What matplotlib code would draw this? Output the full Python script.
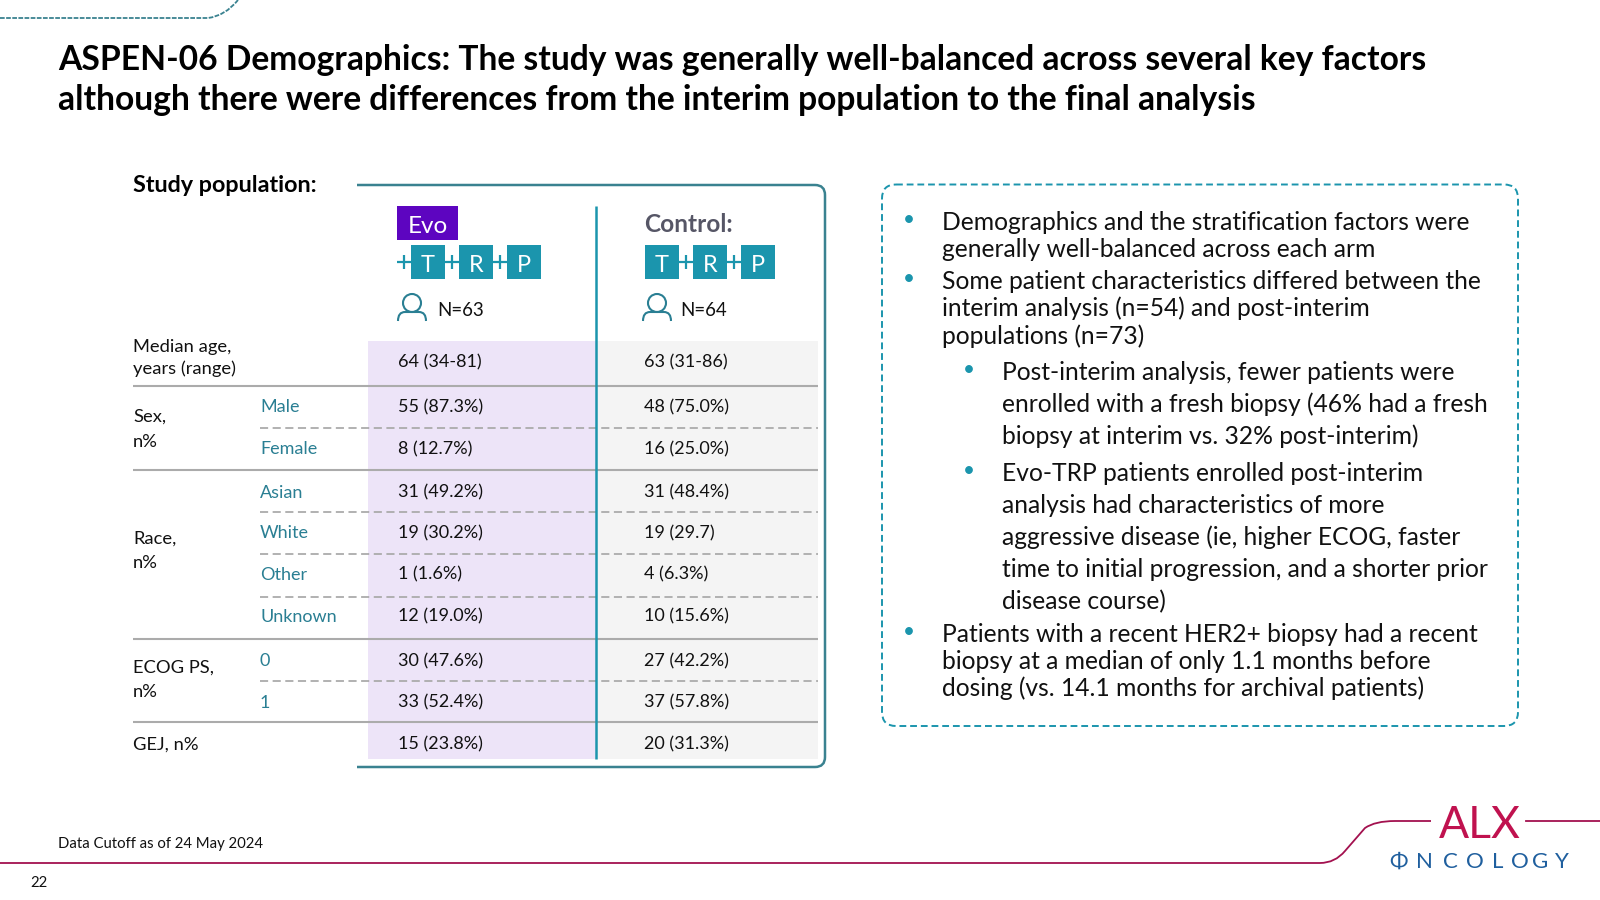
import matplotlib
matplotlib.use("Agg")
import matplotlib.pyplot as plt
from matplotlib.patches import Rectangle, FancyBboxPatch, PathPatch, Circle
from matplotlib.path import Path

plt.rcParams['font.family'] = ['Lato', 'DejaVu Sans']

title_lines = ["ASPEN-06 Demographics: The study was generally well-balanced across several key factors",
               "although there were differences from the interim population to the final analysis"]
row_labels = ["Male", "Female", "Asian", "White", "Other", "Unknown", "0", "1"]
evo_values = ["64 (34-81)", "55 (87.3%)", "8 (12.7%)", "31 (49.2%)", "19 (30.2%)", "1 (1.6%)",
              "12 (19.0%)", "30 (47.6%)", "33 (52.4%)", "15 (23.8%)"]
control_values = ["63 (31-86)", "48 (75.0%)", "16 (25.0%)", "31 (48.4%)", "19 (29.7)", "4 (6.3%)",
                  "10 (15.6%)", "27 (42.2%)", "37 (57.8%)", "20 (31.3%)"]
bullets = [
    (0, ["Demographics and the stratification factors were", "generally well-balanced across each arm"], [221, 248]),
    (0, ["Some patient characteristics differed between the", "interim analysis (n=54) and post-interim", "populations (n=73)"], [280, 307, 335]),
    (1, ["Post-interim analysis, fewer patients were", "enrolled with a fresh biopsy (46% had a fresh", "biopsy at interim vs. 32% post-interim)"], [371, 403, 435]),
    (1, ["Evo-TRP patients enrolled post-interim", "analysis had characteristics of more", "aggressive disease (ie, higher ECOG, faster", "time to initial progression, and a shorter prior", "disease course)"], [472, 504, 536, 568, 600]),
    (0, ["Patients with a recent HER2+ biopsy had a recent", "biopsy at a median of only 1.1 months before", "dosing (vs. 14.1 months for archival patients)"], [633, 660, 687]),
]
logo_letters = list("ΦNCOLOGY")
logo_x = [1399, 1424, 1450, 1475, 1498, 1520, 1540, 1562]

TEAL = "#1b95ad"
DARK_TEAL = "#3a8290"
LABEL = "#2a7f93"
CRIMSON = "#a3114f"
INK = "#111111"

fig = plt.figure(figsize=(16, 9), dpi=100)
ax = fig.add_axes([0, 0, 1, 1])
ax.set_xlim(0, 1600)
ax.set_ylim(900, 0)
ax.axis("off")


def txt(x, y, s, size, **kw):
    """y is the visual centre of the capitals; anchor on the baseline so rows stay level."""
    kw.setdefault("color", INK)
    ax.text(x, y + 0.36 * size * 100 / 72, s, fontsize=size, va="baseline", **kw)


# top-left decoration
ax.add_patch(PathPatch(Path([(0, 18), (208, 18), (225, 16), (238, 0)],
                            [Path.MOVETO, Path.LINETO, Path.CURVE3, Path.CURVE3]),
                       fc="none", ec=DARK_TEAL, lw=1.3, ls=(0, (2.6, 0.8))))

# title
for y, line in zip([58, 98], title_lines):
    txt(58, y, line, 24.2, fontweight="bold", color="black")

txt(133, 184, "Study population:", 16.8, fontweight="bold", color="black")

# table backgrounds
ax.add_patch(Rectangle((368, 341), 228, 418, fc="#ede4f8", ec="none"))
ax.add_patch(Rectangle((596, 341), 222, 418, fc="#f4f4f4", ec="none"))

# rules
for y in [386, 470, 639, 722]:
    ax.plot([133, 818], [y, y], color="#ababab", lw=1.5, solid_capstyle="butt")
for y in [428, 512, 554, 597, 681]:
    ax.plot([260, 818], [y, y], color="#ababab", lw=1.3, ls=(0, (4.5, 2.5)))

# frame and divider
R = 10
verts = [(357, 185), (825 - R, 185), (825, 185), (825, 185 + R), (825, 767 - R), (825, 767), (825 - R, 767), (357, 767)]
codes = [Path.MOVETO, Path.LINETO, Path.CURVE3, Path.CURVE3, Path.LINETO, Path.CURVE3, Path.CURVE3, Path.LINETO]
ax.add_patch(PathPatch(Path(verts, codes), fc="none", ec=DARK_TEAL, lw=1.8))
ax.plot([596, 596], [206, 759], color=TEAL, lw=1.8, solid_capstyle="butt")

# arm headers
ax.add_patch(Rectangle((397, 206), 61, 34, fc="#5d05c0", ec="none"))
txt(428, 224, "Evo", 17.5, color="white", ha="center")
txt(644, 223, "Control:", 17.6, fontweight="bold", color="#565666", ha="left")


def drug_row(xs, lead):
    for x, letter in zip(xs, "TRP"):
        ax.add_patch(Rectangle((x, 245), 34, 34, fc=TEAL, ec="none"))
        txt(x + 17, 263, letter, 17, color="white", ha="center")
    starts = ([xs[0] - 14] if lead else []) + [xs[0] + 34, xs[1] + 34]
    for x in starts:
        ax.plot([x, x + 14], [262, 262], color=TEAL, lw=1.6, solid_capstyle="butt")
        ax.plot([x + 7, x + 7], [255, 269], color=TEAL, lw=1.6, solid_capstyle="butt")


drug_row([411, 459, 507], True)
drug_row([645, 693, 741], False)


def person(cx):
    ax.add_patch(Circle((cx, 303), 9, fc="none", ec=LABEL, lw=1.5))
    ax.add_patch(PathPatch(Path([(cx - 14, 321), (cx - 14, 312), (cx - 7, 312), (cx + 7, 312), (cx + 14, 312), (cx + 14, 321)],
                                [Path.MOVETO, Path.CURVE3, Path.CURVE3, Path.LINETO, Path.CURVE3, Path.CURVE3]),
                           fc="none", ec=LABEL, lw=1.5))


person(412)
person(657)
txt(437, 309, "N=63", 13.4)
txt(680, 309, "N=64", 13.4)

# row text
row_y = [361, 406, 448, 491, 532, 573, 615, 660, 701, 743]
for y, e, c in zip(row_y, evo_values, control_values):
    txt(398, y, e, 13)
    txt(644, y, c, 13)
for y, lab in zip(row_y[1:9], row_labels):
    txt(260, y, lab, 13, color=LABEL)

for y, t in [(345, "Median age,"), (367, "years (range)"), (415, "Sex,"), (440, "n%"),
             (537, "Race,"), (561, "n%"), (666, "ECOG PS,"), (690, "n%"), (743, "GEJ, n%")]:
    txt(133, y, t, 13.2)

# right-hand box
ax.add_patch(FancyBboxPatch((882 + 14, 184.5 + 14), 636 - 28, 541.5 - 28,
                            boxstyle="round,pad=14,rounding_size=14", fc="none", ec=TEAL, lw=1.4,
                            ls=(0, (3.5, 2))))
for level, lines, ys in bullets:
    x_b, x_t = (909, 942) if level == 0 else (969, 1002)
    ax.text(x_b, ys[0] - 1, "•", fontsize=15, color=TEAL, ha="center", va="center")
    for y, line in zip(ys, lines):
        txt(x_t, y, line, 17.7)

# footer
txt(58, 843, "Data Cutoff as of 24 May 2024", 10.7)
txt(30, 882, "22", 10.7)

# footer rule + logo
ax.add_patch(PathPatch(Path([(0, 863), (1320, 863), (1335, 863), (1345, 851), (1365, 828), (1375, 821), (1395, 821), (1431, 821)],
                            [Path.MOVETO, Path.LINETO, Path.CURVE3, Path.CURVE3, Path.LINETO, Path.CURVE3, Path.CURVE3, Path.LINETO]),
                       fc="none", ec=CRIMSON, lw=1.3))
ax.plot([1526, 1600], [821, 821], color=CRIMSON, lw=1.3)
ax.text(1480, 838, "ALX", fontsize=32, color="#c0124f", ha="center", va="baseline")
for x, ch in zip(logo_x, logo_letters):
    ax.text(x, 868, ch, fontsize=16, color="#1f5f9e", ha="center", va="baseline")

fig.savefig("out.png", dpi=100)
